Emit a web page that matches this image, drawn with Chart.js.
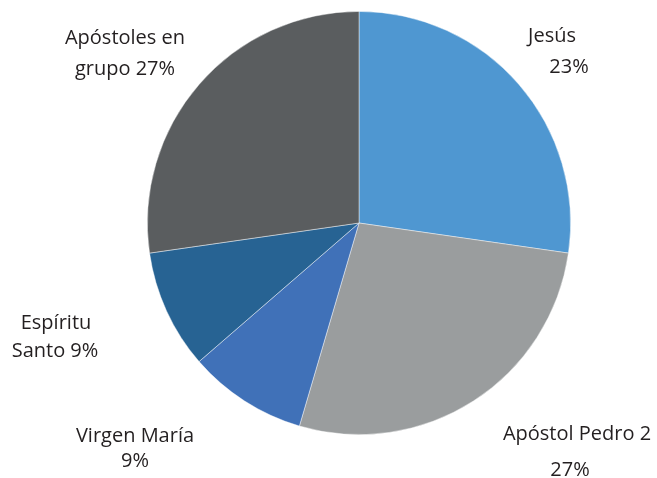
<!DOCTYPE html>
<html>
<head>
<meta charset="utf-8">
<script src="https://cdn.jsdelivr.net/npm/chart.js@4/dist/chart.umd.min.js"></script>
<style>
html,body{margin:0;padding:0;background:#fff;}
#wrap{width:657px;height:478px;position:relative;}
</style>
</head>
<body>
<div id="wrap"><canvas id="c" width="657" height="478"></canvas></div>
<script>
const categories = ["Jesús", "Apóstol Pedro 2", "Virgen María", "Espíritu Santo", "Apóstoles en grupo"];
const values = [27, 27, 9, 9, 27];
const labelLines = [
  ["Jesús", "23%"],
  ["Apóstol Pedro 2", "27%"],
  ["Virgen María", "9%"],
  ["Espíritu", "Santo 9%"],
  ["Apóstoles en", "grupo 27%"]
];
const colors = ["#4F97D1", "#9A9D9E", "#4071B8", "#276393", "#5A5D5F"];

// label anchor positions (text centres), per line
const labelPos = [
  [[552, 36], [569, 67]],
  [[577, 434], [570, 470]],
  [[135, 436], [135, 461]],
  [[56, 323], [55, 351]],
  [[125, 38], [125, 69]]
];

const labelPlugin = {
  id: 'outerLabels',
  afterDraw(chart) {
    const ctx = chart.ctx;
    ctx.save();
    ctx.fillStyle = '#231f20';
    ctx.font = '20px "Open Sans", sans-serif';
    ctx.textAlign = 'center';
    ctx.textBaseline = 'middle';
    labelLines.forEach((lines, i) => {
      lines.forEach((t, j) => {
        const p = labelPos[i][j];
        ctx.fillText(t, p[0], p[1]);
      });
    });
    ctx.restore();
  }
};

new Chart(document.getElementById('c'), {
  type: 'pie',
  data: {
    labels: categories,
    datasets: [{
      data: values,
      backgroundColor: colors,
      borderColor: 'rgba(255,255,255,0.55)',
      borderWidth: 0.8
    }]
  },
  options: {
    responsive: false,
    animation: false,
    layout: { padding: { left: 147, right: 86, top: 11, bottom: 43 } },
    plugins: { legend: { display: false }, tooltip: { enabled: false } }
  },
  plugins: [labelPlugin]
});
</script>
</body>
</html>
